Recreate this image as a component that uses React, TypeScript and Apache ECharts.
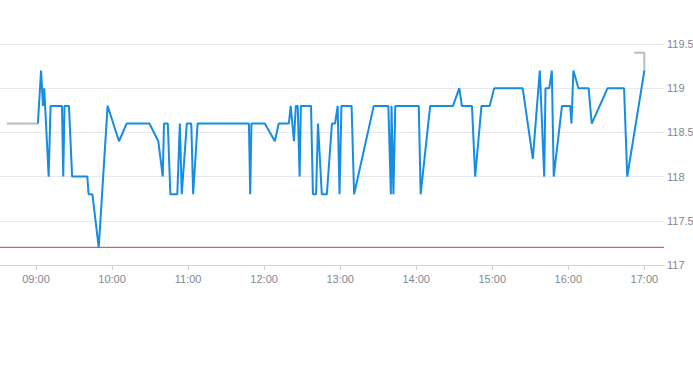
import React, { useEffect, useRef } from "react";
import * as echarts from "echarts";

// Tick labels
const hourTicks = ["09:00", "10:00", "11:00", "12:00", "13:00", "14:00", "15:00", "16:00", "17:00"];
const yTicks = [117, 117.5, 118, 118.5, 119, 119.5];

// Main session (blue)
const mainTimes = [
  "09:01:30", "09:04", "09:05:30", "09:06:30", "09:10", "09:11:30", "09:20:30", "09:21:30", "09:22:30", "09:26",
  "09:28:30", "09:40:30", "09:41:30", "09:44:30", "09:49:30", "09:56:30", "10:05:30", "10:11:30", "10:29:30", "10:36:30",
  "10:40", "10:41", "10:44", "10:46", "10:51:30", "10:53:30", "10:55", "10:59", "11:02:30", "11:04",
  "11:07:30", "11:48", "11:49", "11:50", "12:00:30", "12:08:30", "12:11:30", "12:19:30", "12:21", "12:23:30",
  "12:25", "12:26:30", "12:28", "12:29", "12:37", "12:38:30", "12:41", "12:42:30", "12:45:30", "12:49:30",
  "12:53:30", "12:56", "12:58", "12:59:30", "13:01", "13:09", "13:11", "13:26:30", "13:38", "13:40",
  "13:40:30", "13:42", "13:43:30", "14:02", "14:03:30", "14:11", "14:29", "14:34", "14:36", "14:44",
  "14:46:30", "14:51:30", "14:58", "15:01:30", "15:24", "15:32", "15:37:30", "15:41", "15:42", "15:45",
  "15:47", "15:48:30", "15:55", "16:01:30", "16:02:30", "16:04", "16:08", "16:16", "16:18:30", "16:31",
  "16:44", "16:46:30", "17:00",
];
const mainValues = [
  118.6, 119.2, 118.8, 119.0, 118.0, 118.8, 118.8, 118.0, 118.8, 118.8,
  118.0, 118.0, 117.8, 117.8, 117.2, 118.8, 118.4, 118.6, 118.6, 118.4,
  118.0, 118.6, 118.6, 117.8, 117.8, 118.6, 117.8, 118.6, 118.6, 117.8,
  118.6, 118.6, 117.8, 118.6, 118.6, 118.4, 118.6, 118.6, 118.8, 118.4,
  118.8, 118.8, 118.0, 118.8, 118.8, 117.8, 117.8, 118.6, 117.8, 117.8,
  118.6, 118.6, 118.8, 117.8, 118.8, 118.8, 117.8, 118.8, 118.8, 117.8,
  118.8, 117.8, 118.8, 118.8, 117.8, 118.8, 118.8, 119.0, 118.8, 118.8,
  118.0, 118.8, 118.8, 119.0, 119.0, 118.2, 119.2, 118.0, 119.0, 119.0,
  119.2, 118.0, 118.8, 118.8, 118.6, 119.2, 119.0, 119.0, 118.6, 119.0,
  119.0, 118.0, 119.2,
];

// Pre-session (grey)
const preTimes = ["08:37", "09:01:30"];
const preValues = [118.6, 118.6];

// Post-session (grey)
const postTimes = ["16:52", "17:00", "17:00"];
const postValues = [119.4, 119.4, 119.2];

// Reference level (red)
const refLevel = 117.2;

// Axis extent (minutes of day)
const xMin = 511.6;
const xMax = 1035.5;

const toMin = (s: string) => {
  const p = s.split(":").map(Number);
  return p[0] * 60 + p[1] + (p[2] || 0) / 60;
};
const pairs = (t: string[], v: number[]) => t.map((s, i) => [toMin(s), v[i]]);
const pad = (n: number) => (n < 10 ? "0" + n : "" + n);

export default function App() {
  const ref = useRef<HTMLDivElement>(null);
  useEffect(() => {
    if (!ref.current) return;
    const chart = echarts.init(ref.current, undefined, { renderer: "svg" });
    const hourVals = hourTicks.map(toMin);
    chart.setOption({
      animation: false,
      grid: { left: 0, right: 29, top: 44, bottom: 100, containLabel: false, outerBoundsMode: "none" },
      xAxis: {
        type: "value",
        min: xMin,
        max: xMax,
        splitLine: { show: false },
        axisLine: { show: true, lineStyle: { color: "#cfd4db", width: 1 } },
        axisTick: { show: true, customValues: hourVals, length: 5, lineStyle: { color: "#cfd4db" } },
        axisLabel: {
          customValues: hourVals,
          margin: 8,
          color: "#7f8790",
          fontSize: 11,
          fontFamily: "Liberation Sans, Arial, sans-serif",
          formatter: (v: number) => pad(Math.floor(v / 60)) + ":" + pad(Math.round(v % 60)),
        },
      },
      yAxis: {
        type: "value",
        position: "right",
        min: yTicks[0],
        max: yTicks[yTicks.length - 1],
        interval: 0.5,
        axisLine: { show: false },
        axisTick: { show: false },
        splitLine: { lineStyle: { color: "#e6e8eb", width: 1 } },
        axisLabel: {
          margin: 3,
          color: "#7f8790",
          fontSize: 11,
          fontFamily: "Liberation Sans, Arial, sans-serif",
        },
      },
      series: [
        {
          type: "line",
          data: [[xMin, refLevel], [xMax, refLevel]],
          showSymbol: false,
          lineStyle: { color: "#d93636", width: 1 },
          itemStyle: { color: "#d93636" },
          z: 1,
        },
        {
          type: "line",
          data: pairs(preTimes, preValues),
          showSymbol: false,
          lineStyle: { color: "#b4bcc4", width: 2 },
          itemStyle: { color: "#b4bcc4" },
          z: 2,
        },
        {
          type: "line",
          data: pairs(postTimes, postValues),
          showSymbol: false,
          lineStyle: { color: "#b4bcc4", width: 2 },
          itemStyle: { color: "#b4bcc4" },
          z: 2,
        },
        {
          type: "line",
          data: pairs(mainTimes, mainValues),
          showSymbol: false,
          lineStyle: { color: "#148de3", width: 2 },
          itemStyle: { color: "#148de3" },
          z: 3,
        },
      ],
    });
    return () => chart.dispose();
  }, []);
  return (
    <div
      ref={ref}
      style={{ position: "absolute", left: 0, top: 0, width: 693, height: 365, background: "#fff" }}
    />
  );
}
